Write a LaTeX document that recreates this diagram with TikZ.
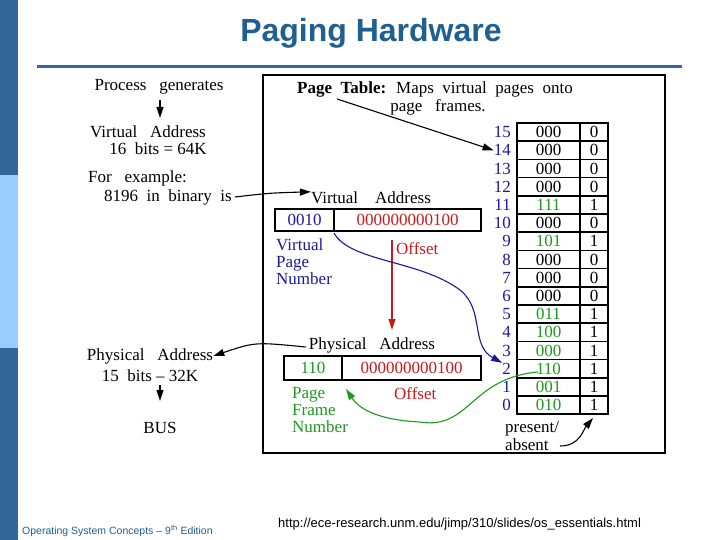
\documentclass[tikz,border=0pt]{standalone}
\usepackage{fontspec}
\setmainfont{Liberation Serif}
\setsansfont{Liberation Sans}
\usetikzlibrary{arrows.meta}
\definecolor{barDark}{HTML}{336699}
\definecolor{barLight}{HTML}{99CCFF}
\definecolor{titleC}{HTML}{1F6090}
\definecolor{vblue}{HTML}{1A1AA0}
\definecolor{vred}{HTML}{CC1A1A}
\definecolor{vgreen}{HTML}{1E9A1E}
\begin{document}
\begin{tikzpicture}[x=1pt,y=-1pt,
  txt/.style={inner sep=0pt,font=\fontsize{17}{17}\selectfont},
  cell/.style={draw,line width=1.6pt,minimum height=18.2pt,inner sep=0pt,font=\fontsize{17}{17}\selectfont},
  arr/.style={-{Triangle[length=11pt,width=7pt]},line width=1.1pt}]
\useasboundingbox (0,0) rectangle (720,540);
\fill[white] (0,0) rectangle (720,540);
\fill[barDark] (0,0) rectangle (18,175);
\fill[barLight] (0,175) rectangle (18,348);
\fill[barDark] (0,348) rectangle (18,540);
\node[titleC,font=\sffamily\bfseries\fontsize{32}{32}\selectfont] (title) at (371,33) {Paging Hardware};
\draw[barDark,line width=3pt] (37,67) -- (682,67);
\draw[line width=1.3pt] (263,75) rectangle (665,453);
% page table title
\node[txt,font=\bfseries\fontsize{17}{17}\selectfont,anchor=west] (pt) at (297,89) {Page\ \ Table\rlap{:}};
\node[txt,anchor=west] (pt2) at (396,89) {Maps\ \ virtual\ \ pages\ \ onto};
\node[txt] (pt3) at (438,107) {page\ \ \ frames.};
% table
\foreach \v/\f/\b [count=\i from 0] in {15/000/0,14/000/0,13/000/0,12/000/0,11/111/1,10/000/0,9/101/1,8/000/0,7/000/0,6/000/0,5/011/1,4/100/1,3/000/1,2/110/1,1/001/1,0/010/1}{
  \pgfmathsetmacro{\yy}{132.1+18.2*\i}
  \ifnum\b=1 \def\fc{vgreen}\else\def\fc{black}\fi
  \node[cell,minimum width=63pt,text=\fc] (f\v) at (548.5,\yy) {\f};
  \node[cell,minimum width=28pt] (b\v) at (594,\yy) {\b};
  \node[txt,text=vblue,anchor=east] (n\v) at (511,\yy) {\v};
}
\draw[arr] (337,99) -- (n14.west);
% virtual address
\node[txt] (vlab) at (371,198) {Virtual\ \ \ \ Address};
\node[cell,minimum width=59pt,minimum height=22pt,text=vblue] (vpn) at (304.5,220) {0010};
\node[cell,minimum width=147pt,minimum height=22pt,text=vred] (voff) at (407.5,220) {000000000100};
\node[txt,text=vblue,anchor=north west,align=left,font=\fontsize{17}{17}\selectfont] (vpnl) at (276,239) {Virtual\\Page\\Number};
\node[txt,text=vred,anchor=west] (offl) at (396,249) {Offset};
% physical address
\node[txt] (plab) at (372,345) {Physical\ \ \ Address};
\node[cell,minimum width=58pt,minimum height=24pt,text=vgreen] (pfn) at (313,368) {110};
\node[cell,minimum width=139pt,minimum height=24pt,text=vred] (poff) at (411.5,368) {000000000100};
\node[txt,text=vgreen,anchor=north west,align=left,font=\fontsize{17}{17}\selectfont] (pfnl) at (292,387) {Page\\Frame\\Number};
\node[txt,text=vred,anchor=west] (offl2) at (394,394) {Offset};
\draw[arr,vred] (392,240) -- (392,330);
\draw[arr,vblue] (334,233) .. controls (350,262) and (420,260) .. (460,290) .. controls (485,310) and (470,345) .. (n2.north west);
\draw[arr,vgreen] (538,372) .. controls (470,378) and (470,430) .. (420,422) .. controls (380,420) and (360,410) .. (346,389);
% present/absent
\node[txt,anchor=west] (pa1) at (505,429) {present/};
\node[txt,anchor=west] (pa2) at (505,445) {absent};
\draw[arr] (560,446) .. controls (580,446) and (583,430) .. (593,418);
% left column
\node[txt] (proc) at (159,87) {Process\ \ \ generates};
\node[txt] (va) at (148,132) {Virtual\ \ \ Address};
\node[txt] (va2) at (158,149) {16\ \ bits = 64K};
\draw[arr] (160,100) -- (160,118);
\node[txt,anchor=west] (fe) at (88,178) {For\ \ \ example:};
\node[txt,anchor=west] (fe2) at (104,197) {8196\ \ in\ \ binary\ \ is};
\draw[arr] (fe2.east) ++(3,0) coordinate (c1) .. controls (270,193) .. (vlab.north west);
\node[txt] (phys) at (150,356) {Physical\ \ \ Address};
\node[txt] (phys2) at (150,376) {15\ \ bits -- 32K};
\draw[arr] (plab.west) ++(-3,2) coordinate (c2) .. controls (255,342) .. (phys.east);
\draw[arr] (160,385) -- (160,401);
\node[txt] (bus) at (160,428) {BUS};
% footer
\node[titleC,anchor=west,inner sep=0pt,font=\sffamily\fontsize{10.5}{10.5}\selectfont] (foot) at (22,531) {Operating System Concepts -- 9\textsuperscript{th} Edition};
\node[anchor=west,inner sep=0pt,font=\sffamily\fontsize{13}{13}\selectfont] (url) at (278,524) {http://ece-research.unm.edu/jimp/310/slides/os\_essentials.html};
\end{tikzpicture}
\end{document}
